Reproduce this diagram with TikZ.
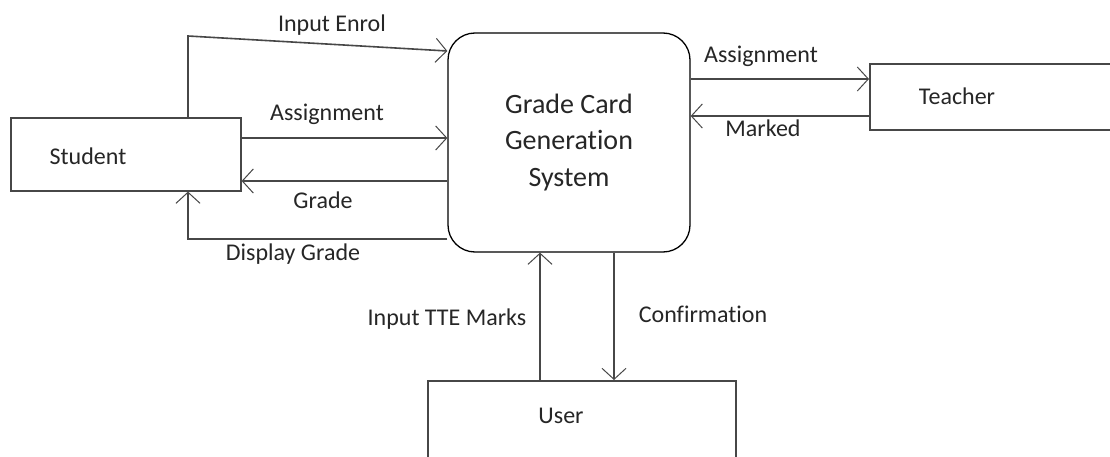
\documentclass[tikz,border=0pt]{standalone}
\usepackage{fontspec}
\setmainfont{Carlito}[Ligatures=NoCommon]
\usetikzlibrary{positioning}
\usetikzlibrary{arrows.meta}

\tikzset{
  entity/.style={draw=black!72, line width=1.6pt, rectangle, inner sep=0pt},
  process/.style={draw=black, line width=1.3pt, rounded corners=27pt, minimum width=242pt,
    minimum height=219pt, align=center, text=black!85, font=\fontsize{28}{36.5}\selectfont},
  flow/.style={draw=black!72, line width=1.6pt, -{Straight Barb[length=11pt,width=24pt,line width=1pt]}},
  lbl/.style={anchor=base, inner sep=0pt, text=black!85, font=\fontsize{24}{29}\selectfont}
}

\begin{document}
\begin{tikzpicture}[x=1pt,y=-1pt]
  \useasboundingbox (0,0) rectangle (1110,457);
  \fill[white] (0,0) rectangle (1110,457);
  \clip (0,0) rectangle (1110,457);

  % external entities and the process
  \node[entity, minimum width=230pt, minimum height=73pt, anchor=north west] (student) at (10,117) {};
  \node[entity, minimum width=300pt, minimum height=66pt, anchor=north west] (teacher) at (869,63) {};
  \node[entity, minimum width=308pt, minimum height=140pt, anchor=north west] (user) at (427,380) {};
  \node[process] (gcs) at (569,142.5) {Grade Card\\Generation\\ System};

  \node[lbl] (studenttxt) at (88,165) {Student};
  \node[lbl] (teachertxt) at (957,105) {Teacher};
  \node[lbl] (usertxt) at (561,423) {User};

  \coordinate (enroltop) at (188,36);

  % data flows
  \draw[flow] (student.north -| enroltop) -- (enroltop) -- (gcs.west |- 0,51);
  \draw[flow] (student.east |- 0,138) -- (gcs.west |- 0,138);
  \draw[flow] (gcs.west |- 0,181) -- (student.east |- 0,181);
  \draw[flow] (gcs.west |- 0,239) -| (student.south -| enroltop);
  \draw[flow] (gcs.east |- 0,79) -- (teacher.west |- 0,79);
  \draw[flow] (teacher.west |- 0,116) -- (gcs.east |- 0,116);
  \draw[flow] (user.north -| 540,0) -- (gcs.south -| 540,0);
  \draw[flow] (gcs.south -| 614,0) -- (user.north -| 614,0);

  % flow labels
  \node[lbl] (lenrol) at (332,32) {Input Enrol};
  \node[lbl] (lassign) at (327,121) {Assignment};
  \node[lbl] (lgrade) at (323,208) {Grade};
  \node[lbl] (ldisplay) at (293,260) {Display Grade};
  \node[lbl] (lassignt) at (761,63) {Assignment};
  \node[lbl] (lmarked) at (763,137) {Marked};
  \node[lbl] (ltte) at (447,325) {Input TTE Marks};
  \node[lbl] (lconfirm) at (703,322) {Confirmation};
\end{tikzpicture}
\end{document}
